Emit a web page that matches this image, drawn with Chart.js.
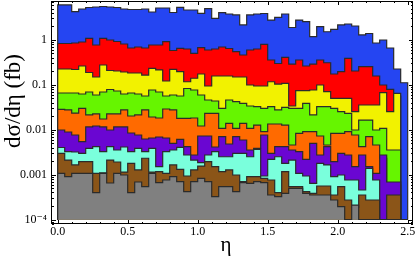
<!DOCTYPE html>
<html><head><meta charset="utf-8">
<script src="https://cdn.jsdelivr.net/npm/chart.js@4.4.1/dist/chart.umd.min.js"></script>
<style>html,body{margin:0;padding:0;background:#fff;overflow:hidden}</style>
</head><body>
<canvas id="c" width="415" height="260"></canvas>
<script>
// bin edges in eta
const etaEdges = [0,0.05,0.1,0.15,0.2,0.25,0.3,0.35,0.4,0.45,0.5,0.55,0.6,0.65,0.7,0.75,0.8,0.85,0.9,0.95,
  1.0,1.05,1.1,1.15,1.2,1.25,1.3,1.35,1.4,1.45,1.5,1.55,1.6,1.65,1.7,1.75,1.8,1.85,1.9,1.95,
  2.0,2.05,2.1,2.15,2.2,2.25,2.3,2.35,2.4,2.45,2.5];
const xTickValues = [0,0.5,1,1.5,2,2.5];
const xTickLabels = ['0.0','0.5','1.0','1.5','2.0','2.5'];
const yTickValues = [1e-4,1e-3,1e-2,0.1,1];
const yTickLabels = ['10\u207B\u2074','0.001','0.01','0.1','1'];

// dσ/dη (fb) per bin, back (largest) to front (smallest)
const blue = [6.0,6.0,4.25,4.88,5.27,5.4,5.54,5.4,5.27,4.88, 4.75,4.75,4.88,4.18,5.13,5.13,4.08,5.32,4.63,4.63,
  3.91,4.95,3.03,4.03,3.77,3.59,2.15,3.59,3.77,3.87, 2.77,3.19,3.77,1.89,2.77,2.54,1.18,1.97,1.52,1.72,
  2.15,2.26,2.04,1.29,1.39,0.853,0.995,0.66,0.225,0.111];
const red = [0.831,0.831,0.853,0.898,1.085,0.77,1.085,0.995,0.921,0.81, 0.66,0.695,0.66,0.77,0.77,0.912,0.581,0.65,0.627,0.503,
  0.67,0.596,0.627,0.695,0.643,0.546,0.461,0.596,0.627,0.798, 0.357,0.298,0.41,0.29,0.357,0.262,0.29,0.357,0.31,0.174,
  0.196,0.389,0.203,0.253,0.253,0.157,0.099,0.0794,0.0563,0];
const yellow = [0.225,0.225,0.219,0.262,0.188,0.149,0.276,0.208,0.203,0.193, 0.183,0.183,0.165,0.231,0.214,0.1215,0.221,0.196,0.117,0.14,
  0.174,0.094,0.157,0.157,0.157,0.149,0.149,0.099,0.094,0.094, 0.117,0.104,0.108,0.0337,0.0739,0.0739,0.0766,0.099,0.0702,0.05,
  0.05,0.05,0.0252,0.0355,0.0355,0.0355,0.0667,0.0252,0.0647,0];
const green = [0.0657,0.0657,0.0657,0.0624,0.0691,0.0593,0.0691,0.0786,0.0728,0.0624, 0.0657,0.0624,0.0563,0.0766,0.0691,0.0563,0.0593,0.0563,0.0827,0.0766,
  0.0593,0.0459,0.0436,0.030,0.0459,0.042,0.0387,0.0337,0.0325,0.030, 0.0325,0.0275,0.0315,0.030,0.030,0.0387,0.0213,0.0325,0.0325,0.030,
  0.0252,0.0232,0.00984,0.0164,0.0164,0.00984,0.0107,0.00353,0.00353,0];
const orange = [0.0285,0.0275,0.0235,0.030,0.0213,0.0224,0.0173,0.0224,0.0224,0.0275, 0.0202,0.0213,0.0275,0.0192,0.0182,0.0289,0.0275,0.0179,0.0179,0.0182,
  0.0121,0.0232,0.0232,0.0107,0.0139,0.0107,0.0139,0.0107,0.0127,0.00902, 0.0134,0.0134,0.0127,0.00456,0.00831,0.00902,0.00902,0.00724,0.00456,0.00831,
  0.00831,0.00902,0.00762,0.00418,0.00698,0.00456,0.00231,0.000587,0.000587,0];
const purple = [0.00984,0.00889,0.00762,0.0054,0.0115,0.0121,0.0115,0.00984,0.0115,0.0115, 0.00844,0.00762,0.00621,0.00653,0.00688,0.00653,0.00498,0.00611,0.00418,0.00273,
  0.00724,0.00724,0.00412,0.00698,0.0048,0.00698,0.0059,0.00353,0.00385,0.00762, 0.00298,0.00418,0.00418,0.00353,0.00324,0.00219,0.00498,0.00273,0.00418,0.00194,
  0.00298,0.00273,0.0015,0.00273,0.0015,0.00107,0.00273,0.000684,0.000684,0];
const cyan = [0.00401,0.00324,0.00319,0.00298,0.00385,0.00418,0.00324,0.00418,0.00353,0.00412, 0.00324,0.00385,0.00324,0.00385,0.0015,0.00324,0.00353,0.00406,0.00273,0.00211,
  0.00184,0.00273,0.00324,0.0025,0.0025,0.00298,0.00298,0.0025,0.00366,0.00093, 0.00219,0.0025,0.00178,0.00211,0.00107,0.00093,0.00064,0.00178,0.00164,0.000898,
  0.00098,0.000758,0.000758,0.000454,0.00138,0.000758,0,0,0,0];
const brown = [0.00298,0.00211,0.00164,0.00194,0.00194,0.00107,0.00109,0.00211,0.00191,0.00114, 0.00178,0.00127,0.00231,0.00114,0.00116,0.00107,0.00164,0.00131,0.00093,0.00127,
  0.00155,0.00194,0.0015,0.00116,0.00127,0.00098,0.000695,0.000898,0.000898,0.000827, 0.000758,0.000395,0.00116,0.000538,0.000538,0.000416,0.000383,0.000557,0.000557,0.000351,
  0.000538,0.000272,0.000185,0.000351,0.000272,0.000272,0,0.000351,0.000351,0];
const gray = [0.00107,0.000898,0.00107,0.00107,0.00107,0.000395,0.00107,0.00065,0.00107,0.00098, 0.000395,0.000684,0.000538,0.00107,0.00066,0.000758,0.000898,0.000695,0.000416,0.000695,
  0.000827,0.000695,0.000322,0.000538,0.000538,0.000416,0.00066,0.00064,0.000695,0.00066, 0.000351,0.000322,0.000383,0.000495,0.000495,0.000383,0.000351,0.000351,0.000351,0.000272,
  0.000193,0,0.00021,0,0,0,0,0,0,0];

const seriesValues = [blue, red, yellow, green, orange, purple, cyan, brown, gray];
const seriesColors = ['#2545f2','#ff0000','#f2f200','#66f500','#ff6a00','#6a06d2','#7affdc','#8b5518','#808080'];
const FLOOR = 1e-4; // histogram base

function stepPoints(vals){
  const pts = [{x: etaEdges[0], y: FLOOR}];
  vals.forEach((v, i) => pts.push({x: etaEdges[i], y: v > 0 ? v : FLOOR}));
  pts.push({x: etaEdges[vals.length], y: FLOOR});
  return pts;
}

const datasets = seriesValues.map((vals, k) => ({
  data: stepPoints(vals),
  backgroundColor: seriesColors[k],
  borderColor: '#2b2b2b',
  borderWidth: 1.2,
  fill: {value: FLOOR},
  stepped: true,
  pointRadius: 0,
  order: seriesValues.length - k
}));

const serif = "'Liberation Serif', 'DejaVu Serif', serif";

const frame = {
  id: 'frame',
  afterDatasetsDraw(chart){
    const {ctx, chartArea: a, scales: {x, y}} = chart;
    ctx.save();
    ctx.strokeStyle = '#000';
    ctx.lineWidth = 1;
    ctx.beginPath();
    for (let k = 0; k <= 25; k++){
      const px = Math.round(x.getPixelForValue(k / 10)) + 0.5;
      const len = (k % 5 === 0) ? 4 : 2;
      ctx.moveTo(px, a.bottom); ctx.lineTo(px, a.bottom - len);
      ctx.moveTo(px, a.top); ctx.lineTo(px, a.top + len);
    }
    for (let e = -5; e <= 0; e++){
      for (let m = 1; m <= 9; m++){
        const v = m * Math.pow(10, e);
        if (v < y.min || v > y.max) continue;
        const py = Math.round(y.getPixelForValue(v)) + 0.5;
        const len = m === 1 ? 4 : 2;
        ctx.moveTo(a.left, py); ctx.lineTo(a.left + len, py);
        ctx.moveTo(a.right, py); ctx.lineTo(a.right - len, py);
      }
    }
    ctx.stroke();
    ctx.strokeRect(a.left - 0.5, a.top + 0.5, a.right - a.left, a.bottom - a.top - 1);
    // axis titles
    ctx.fillStyle = '#000';
    ctx.textAlign = 'center';
    ctx.textBaseline = 'alphabetic';
    ctx.font = "21px " + serif;
    ctx.fillText('\u03B7', 226, 251);
    ctx.font = "23px " + serif;
    ctx.translate(20, 101);
    ctx.rotate(-Math.PI / 2);
    ctx.fillText('d\u03C3/d\u03B7 (fb)', 0, 0);
    ctx.restore();
  }
};

new Chart(document.getElementById('c'), {
  type: 'line',
  data: {datasets},
  options: {
    responsive: false,
    animation: false,
    devicePixelRatio: 1,
    layout: {padding: {top: 1, right: 2, left: 0, bottom: 0}},
    plugins: {legend: {display: false}, tooltip: {enabled: false}},
    scales: {
      x: {
        type: 'linear', min: -0.0407, max: 2.538,
        grid: {display: false, drawTicks: false}, border: {display: false},
        afterBuildTicks(s){ s.ticks = xTickValues.map(v => ({value: v})); },
        afterFit(s){ s.height = 36; s.paddingLeft = 0; s.paddingRight = 0; },
        ticks: {
          callback: (v, i) => xTickLabels[i],
          font: {family: serif, size: 12}, color: '#000',
          padding: 1, maxRotation: 0, autoSkip: false
        }
      },
      y: {
        type: 'logarithmic', min: 7.94e-5, max: 7.35,
        grid: {display: false, drawTicks: false}, border: {display: false},
        afterBuildTicks(s){ s.ticks = yTickValues.map(v => ({value: v})); },
        afterFit(s){ s.width = 52; s.paddingTop = 0; s.paddingBottom = 0; },
        ticks: {
          callback: (v, i) => yTickLabels[i],
          font: {family: serif, size: 12}, color: '#000',
          padding: 5, autoSkip: false
        }
      }
    }
  },
  plugins: [frame]
});
</script>
</body></html>
